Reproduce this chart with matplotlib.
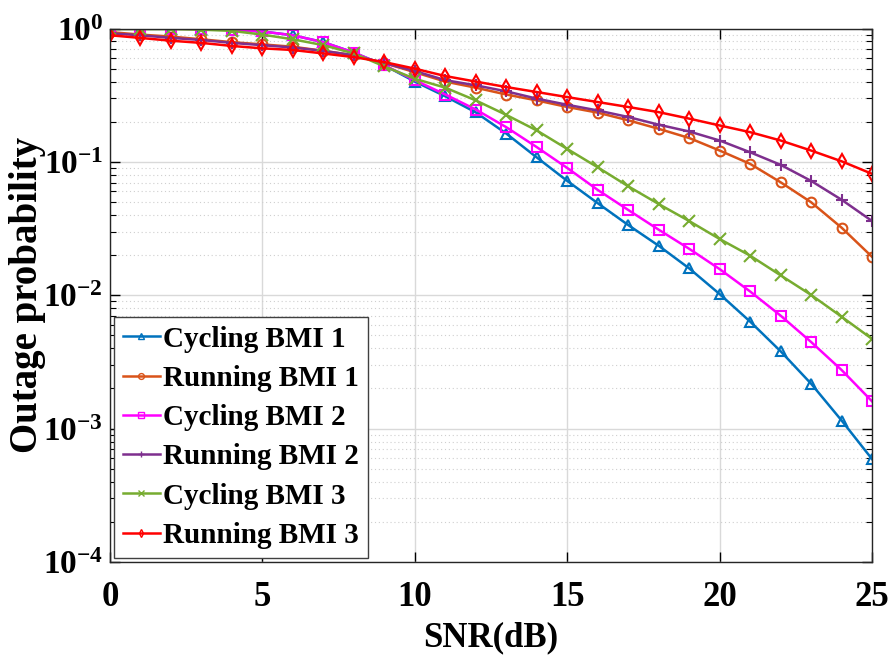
import matplotlib
matplotlib.use("Agg")
from matplotlib import pyplot as plt
from matplotlib.ticker import LogLocator, NullFormatter
import numpy as np

snr = list(range(0, 26))

cycling_bmi1 = [1.0, 1.0, 1.0, 1.0, 0.98, 0.95, 0.89, 0.79, 0.66, 0.53, 0.40, 0.31,
                0.235, 0.163, 0.108, 0.072, 0.049, 0.0336, 0.0235, 0.0159, 0.0102,
                0.00634, 0.0038, 0.00217, 0.00115, 0.00059]
running_bmi1 = [0.94, 0.90, 0.87, 0.83, 0.79, 0.76, 0.73, 0.68, 0.63, 0.55, 0.47, 0.40,
                0.36, 0.32, 0.289, 0.258, 0.234, 0.205, 0.177, 0.151, 0.1216,
                0.0966, 0.0703, 0.0498, 0.0321, 0.0194]
cycling_bmi2 = [1.0, 1.0, 1.0, 0.99, 0.98, 0.95, 0.89, 0.79, 0.66, 0.53, 0.41, 0.32,
                0.247, 0.182, 0.129, 0.09, 0.0616, 0.0436, 0.031, 0.0223, 0.0157,
                0.01067, 0.00703, 0.00446, 0.00275, 0.0016]
running_bmi2 = [0.92, 0.89, 0.85, 0.82, 0.78, 0.75, 0.72, 0.68, 0.63, 0.55, 0.48, 0.41,
                0.375, 0.338, 0.298, 0.268, 0.243, 0.217, 0.19, 0.169, 0.1446,
                0.118, 0.095, 0.072, 0.052, 0.036]
cycling_bmi3 = [0.99, 0.99, 0.99, 0.98, 0.96, 0.90, 0.83, 0.75, 0.65, 0.52, 0.42, 0.36,
                0.289, 0.225, 0.172, 0.125, 0.091, 0.0656, 0.0483, 0.036, 0.0264,
                0.0198, 0.0141, 0.01005, 0.0069, 0.0047]
running_bmi3 = [0.89, 0.85, 0.81, 0.78, 0.74, 0.71, 0.69, 0.65, 0.61, 0.56, 0.50, 0.44,
                0.40, 0.364, 0.334, 0.306, 0.281, 0.258, 0.236, 0.211, 0.1875,
                0.167, 0.1446, 0.1216, 0.101, 0.0813]

series = [
    ("Cycling BMI 1", cycling_bmi1, "#0072BD", "^"),
    ("Running BMI 1", running_bmi1, "#D95319", "o"),
    ("Cycling BMI 2", cycling_bmi2, "#FF00FF", "s"),
    ("Running BMI 2", running_bmi2, "#7E2F8E", "+"),
    ("Cycling BMI 3", cycling_bmi3, "#77AC30", "x"),
    ("Running BMI 3", running_bmi3, "#FF0000", "d"),
]

plt.rcParams['font.family'] = ['Liberation Serif', 'DejaVu Serif']
plt.rcParams['font.weight'] = 'bold'
plt.rcParams['mathtext.fontset'] = 'custom'
plt.rcParams['mathtext.rm'] = 'Liberation Serif:bold'
plt.rcParams['mathtext.bf'] = 'Liberation Serif:bold'

fig = plt.figure(figsize=(8.89, 6.6), dpi=100)
ax = fig.add_axes([0.1237, 0.1485, 0.8573, 0.8083])

for name, vals, col, mk in series:
    ms = 8 if mk in ("+", "x") else 7
    ax.semilogy(snr, vals, color=col, marker=mk, markersize=ms, markerfacecolor='none',
                markeredgewidth=1.5, linewidth=1.8, label=name)

ax.set_xlim(0, 25)
ax.set_ylim(1e-4, 1)
ax.set_xticks([0, 5, 10, 15, 20, 25])
ax.yaxis.set_major_locator(LogLocator(base=10, numticks=10))
ax.yaxis.set_minor_locator(LogLocator(base=10, subs=np.arange(2, 10), numticks=10))
ax.yaxis.set_minor_formatter(NullFormatter())

ax.grid(True, which='major', color='#d9d9d9', linewidth=1.0, linestyle='-')
ax.grid(True, which='minor', axis='y', color='#cfcfcf', linewidth=0.8, linestyle=(0, (1, 2.5)))
ax.set_axisbelow(True)

ax.tick_params(which='both', direction='in', top=True, right=True)
ax.tick_params(axis='x', pad=14, labelsize=25)
ax.tick_params(axis='y', pad=5, labelsize=24)
ax.tick_params(which='major', length=7, width=1)
ax.tick_params(which='minor', length=4, width=0.8)
for s in ax.spines.values():
    s.set_color('#262626')
    s.set_linewidth(1.0)

ax.set_xlabel("SNR(dB)", fontsize=25, fontweight='bold', labelpad=5)
ax.set_ylabel("Outage probability", fontsize=28, fontweight='bold')
ax.yaxis.set_label_coords(-0.084, 0.5)

leg = ax.legend(loc='lower left', prop={'weight': 'bold', 'size': 21},
                handlelength=1.25, handletextpad=0.12, labelspacing=0.42,
                borderaxespad=0.15, borderpad=0.3, fancybox=False, framealpha=1,
                markerscale=0.6)
leg.get_frame().set_edgecolor('#404040')
leg.get_frame().set_linewidth(1.0)
for h in leg.legend_handles:
    h.set_markeredgewidth(1.0)

fig.savefig("out.png", dpi=100)
